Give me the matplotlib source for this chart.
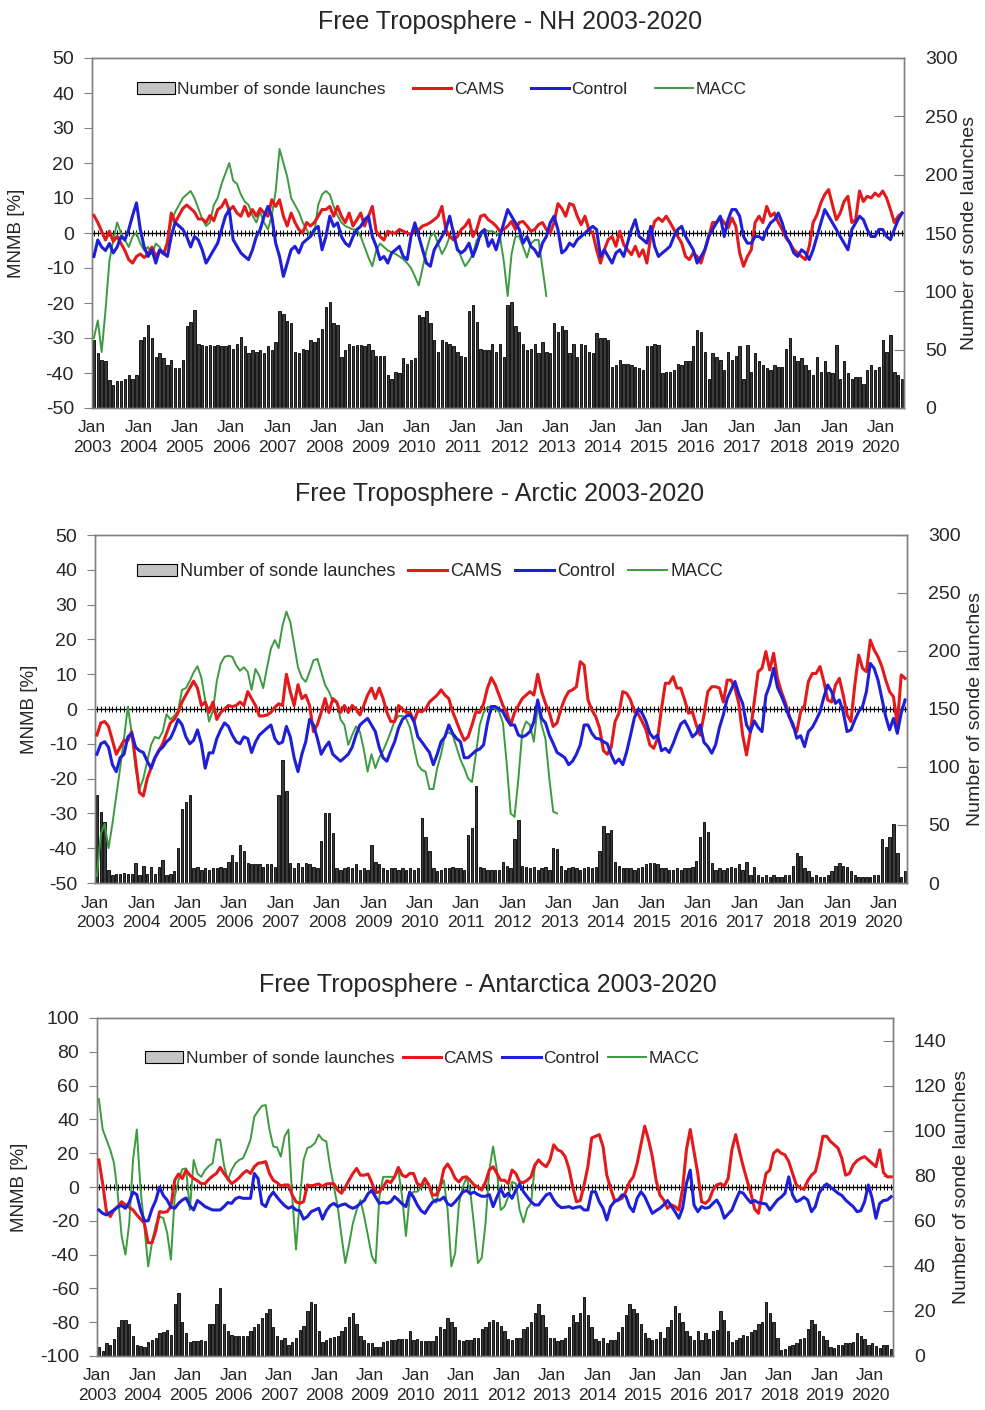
import numpy as np
import matplotlib
matplotlib.use("Agg")
import matplotlib.pyplot as plt
from matplotlib.patches import Patch
from matplotlib.lines import Line2D

plt.rcParams['font.family'] = ['Liberation Sans', 'DejaVu Sans']
plt.rcParams['axes.unicode_minus'] = False

# monthly values, Jan 2003 .. Jun 2020
years = list(range(2003, 2021))
tick_labels = ["Jan\n%d" % y for y in years]

nh_cams = [
    5, 3, 0.5, -2, 0.5, -2.4, -1, -3, -5, -7.6, -8.6, -6.7,
    -6, -7, -6, -4, -6.7, -5, -6, -3, 5.7, 3, 5, 7,
    8, 7, 6, 4, 4, 3, 5, 3.5, 6.7, 7.5, 9.5, 6.5,
    7.6, 5.7, 4.8, 7.6, 4.8, 6.7, 4.8, 7, 5.7, 4.8, 9.5, 7.6,
    9.5, 4.8, 2, 5.7, 3, 1, 0, 3, 2, 3, 4.8, 6.7,
    6.7, 7.6, 4.8, 7.6, 4.8, 3, 5.7, 2, 3.8, 5.7, 2, 4.8,
    7.6, 0.5, -1, -2, 0.5, 0, 0, 1, 0.5, 0, -0.5, 1,
    1, 2, 2.4, 3, 3.8, 4.8, 7.6, 1, -1, -2, -1, 1,
    2, 3.8, -1, 1, 4.8, 5.2, 3.8, 3, 2, 0.5, 1, 2,
    3.3, 1, 3, 3.3, 2, 0.5, 1, 2.4, 3, 1, 0, 3,
    8.4, 7, 4.8, 8.4, 8, 4.8, 2.4, 4.8, 1, 0, -4.8, -8.6,
    -4.8, -1.9, -1, -3.8, 0.5, -3.3, -4.8, -6.2, -3.8, -6.7, -4.8, -8.6,
    -1, 3.3, 4.3, 3.3, 4.8, 3, 1, -1, -2.9, -6.7, -7.6, -5.7,
    -6.7, -8.6, -4.8, -1, 3, 3, 4.3, 3, 1.4, 4.3, 1.9, -5.7,
    -9.5, -6.7, -4.8, 3, 4.8, 3, 7.6, 4.8, 5.7, 3, 1, -1.4,
    -2.9, -4.8, -5.7, -6.7, -7.6, -3.8, 3, 5.2, 8.6, 11, 12.4, 8,
    3.8, 5.7, 9, 10.5, 3, 3.8, 12, 9, 10.5, 10, 11.4, 10.5,
    12, 10, 6.7, 3, 4.8, 5.7]
nh_ctrl = [
    -6.7, -2, -4, -5, -3, -5.7, -4, -1, -2, 1, 5, 8.6,
    1, -4, -6.7, -4.8, -8.6, -4.8, -5.7, -6.7, -1, 3, 2, 1,
    -1, -4, -1, -2, -4.8, -8.6, -6.7, -4.8, -2.9, 1, 4.8, 6.7,
    -1.9, -3.8, -5.7, -6.7, -7.6, -4.8, -1, 1, 4.8, 7.6, 4.8, -2.9,
    -6.7, -12.4, -8.6, -4.8, -3.8, -5.7, -2.9, -1.9, -1, 1, 1.9, -4.8,
    -1, 4.8, 1.9, 2.9, -1, -2.9, -3.8, -1, 1, 1.9, 3.8, 4.8,
    -1, -3.8, -7.6, -6.7, -8.6, -5.7, -4.8, -3.8, -6.7, -7.6, -1, 2.9,
    -1, -4.8, -8.6, -9.5, -4.8, -2.9, -1, 1, 4.8, 0, -4.8, -5.7,
    -4.8, -2.9, -6.7, -3.8, 0, 1, -3.8, -1.9, -4.8, -1, 2.9, 6.7,
    4.8, 2.9, 1, -2.9, -1, -3.8, -4.8, -6.7, -2.9, -1, 2.9, 4.8,
    1, -5.7, -4.8, -2.9, -3.8, -1.9, -1, 0, 1, 1.9, 1, -6.7,
    -4.8, -6.7, -8.6, -5.7, -4.8, -6.7, -2.9, 1, 3.8, -1, -1.9, -2.9,
    1.9, -3.8, -6.7, -5.7, -4.8, -3.8, -1, 1, 1.9, -1, -2.9, -4.8,
    -8.6, -6.7, -4.8, -1, 1, 2.9, 4.8, -1, 3.8, 6.7, 6.7, 4.8,
    -1, -2.9, -2.9, -1, -1, -1.9, 1, 2.9, 3.8, 5.7, 2.9, -1,
    -2.9, -5.7, -6.7, -4.8, -5.7, -7.6, -4.8, -1, 2.9, 6.7, 4.8, 2.9,
    1, -1, -2.9, -4.8, 1, 2.9, 4.8, 3.8, 1, -1, -1, 1,
    1, -1, -1.9, 1, 3.8, 5.7]
nh_macc = [
    -30, -25, -34, -22, -8, -2, 3, 0, -2, -4, -1, 0,
    -3, -5, -4, -6, -3, -4, -6, -2, 3, 6, 8, 10,
    11, 12, 10, 7, 4, 2, 3, 8, 10, 14, 17, 20,
    15, 14, 11, 9, 8, 5, 3, 6, 3, 1, 5, 12,
    24, 20, 16, 10, 8, 6, 3, 1, -1, 0, 8, 11,
    12, 11, 7.6, 5, 3, 2, 1.5, 1, 1, -1, -4, -7,
    -9.5, -5, -3, -4, -5, -5.5, -6, -6.7, -7.5, -8.6, -10, -12.4,
    -15, -10, -5, -1, 0, -3, -6, -4, -1, -1, -4, -7,
    -9.5, -8, -6, -2, -1, 1, 0.5, 0.5, 0, -1, -8, -18,
    -6, -1, -1, -4, -7, -3, -2, -2, -10, -18]
nh_sondes = [
    58, 47, 41, 40, 24, 20, 23, 23, 25, 28, 25, 28,
    58, 61, 71, 60, 44, 47, 43, 37, 41, 34, 34, 41,
    70, 74, 84, 55, 54, 53, 54, 53, 54, 53, 53, 54,
    51, 55, 61, 53, 47, 50, 48, 50, 47, 53, 50, 57,
    83, 81, 75, 73, 48, 47, 51, 50, 58, 57, 60, 68,
    87, 91, 73, 71, 44, 50, 55, 53, 54, 54, 53, 55,
    50, 45, 45, 45, 28, 25, 31, 30, 43, 38, 41, 43,
    80, 78, 83, 73, 58, 48, 58, 57, 55, 53, 48, 45,
    44, 83, 88, 74, 51, 50, 50, 55, 48,
    55, 44, 88, 91, 70, 65, 55, 50, 51, 55,
    47, 57, 48, 47, 73, 65, 70, 67, 47, 55,
    44, 55, 54, 48, 47, 64, 60, 60, 58, 35,
    37, 41, 38, 38, 37, 35, 34, 33, 53, 53,
    55, 54, 30, 31, 31, 33, 38, 37, 40, 40,
    53, 67, 65, 48, 25, 47, 44, 41, 33, 48,
    41, 45, 53, 25, 54, 31, 47, 40, 37, 34,
    33, 37, 35, 35, 51, 60, 45, 40, 43, 37,
    33, 28, 44, 31, 40, 31, 30, 54, 25, 40,
    30, 25, 27, 27, 21, 33, 37, 33, 35, 58,
    48, 63, 31, 28, 25]

arc_cams = [
    -7.5, -4, -3.6, -5, -9, -13, -11, -9, -9, -6.5, -15, -24,
    -25, -20, -17, -14, -12, -10, -7, -4, -3, -1, 2, 4,
    6, 8, 6, 1, 2, -1, 2, -3, -1, 0, 1, 0.7,
    1, 2, 1, 5, 3, 1, -2, -2, -1.7, -1, 0.5, 1.5,
    1, 10, 5, 1, 7, 3, 4, 1, -6.5, -4.5, -1, 3,
    -1, 3, 2, -1, 1, -1, 1, 0, -1.7, 1, 4, 6,
    3, 6, 3, -1, -3.6, -3.6, 1, 0, -1, -1, -3.6, -0.5,
    -0.8, 0, 2, 3, 4, 5.5, 4, 3, -0.8, -3.6, -6.5, -9,
    -8, -4.6, -0.8, -1, 1.5, 6, 9, 7, 4, 1, -1, -4.6,
    -1, 1, 3, 4, 5, 4, 10, 5, 1.6, -1, -5, -4,
    0, 3, 5, 5.5, 6.4, 13.6, 12.6, 2.6, -0.3, -2.2, -5.5, -12,
    -13, -11, -3.6, -1.2, 5, 4.5, 2.6, -0.8, -1.5, -3.6, -6, -10.3,
    -11.3, -8.4, 0, 7.4, 7.4, 9.3, 6, 6, 2.6, -1.2, -0.8, -4.6,
    -7.5, -1.7, 5, 6.4, 6.4, 6, 2, 8.3, 8.3, 6, 1.6, -7.5,
    -13.2, -6.5, 2, 10.7, 11.7, 16.5, 11.2, 16, 8.8, 5, 2, -1.7,
    -5, -6.5, -0.8, 1, 7.9, 10.2, 10.2, 12.2, 7.9, 2.6, 2, 6.9,
    8.8, 4, -1.7, -3.6, 6.9, 15.5, 11.7, 10.7, 19.8, 17, 15, 12.2,
    8.3, 5, 3.5, -4.6, 9.8, 8.8]
arc_ctrl = [
    -13, -10, -9.4, -11, -16, -18, -14, -13, -8, -7, -11, -12,
    -12.5, -15, -17, -14, -12, -11, -9.4, -8.4, -6, -3, -4.5, -8,
    -10, -9, -6, -10, -17, -12.6, -12.6, -8.5, -6, -4, -5, -7.5,
    -9.4, -10, -8, -8.5, -12.5, -9.5, -7.5, -6.5, -5.5, -4.6, -8.5, -10,
    -9.5, -5, -8, -14, -18, -13, -9.4, -3, -4.6, -8.4, -13, -11,
    -9.5, -13, -14, -15, -14, -13, -11, -7.5, -4.6, -3.6, -2.7, -4.6,
    -6.5, -11, -14, -15, -12, -9.4, -5.5, -3, -2, -1.7, -3.6, -8,
    -9.4, -11, -12.5, -16, -13, -9.4, -8, -4.6, -7, -8.5, -9.4, -14,
    -14, -13, -12, -11.5, -10.3, -4, 0.7, 0.7, 0, -0.8, -3, -4.6,
    -4.6, -7.5, -8, -7.5, -6.5, -3.6, 2.6, -2.7, -4, -7.5, -9.9, -12.5,
    -13.2, -14, -16, -15, -13, -10.3, -4.6, -4.6, -7, -8.4, -8.6, -9.4,
    -10, -13.2, -15.6, -14.4, -16, -12.3, -7.5, -2.5, 0, -1.2, -3.6, -7,
    -8.4, -7.5, -12, -11.3, -12.5, -10, -7, -4.3, -3.4, -5.5, -8, -7,
    -4.6, -9.6, -10.8, -12.7, -10.3, -5.3, -1.7, 3, 5.5, 7.9, 4.3, 1.6,
    -4.6, -6.5, -3.4, -5.3, -6.5, 3.8, 6.9, 11.7, 6.2, 3.8, 1, -2.2,
    -4.3, -8.4, -7.7, -10.8, -6.5, -5.3, -3.2, -0.8, 3.4, 6.9, 5, 1.6,
    2.6, -0.8, -6.5, -6, -3.2, -0.8, 0.7, 5, 13.1, 11.7, 8.3, 3,
    -2.2, -6, -2.7, -7, -1.2, 2.6]
arc_macc = [
    -48, -36, -33, -40, -33, -25, -17, -8.5, 0.7, -7, -17, -23,
    -20, -15, -10.3, -8, -8.5, -6.5, -1.5, -3, -2, -0.5, 5.5, 6,
    8, 10.5, 12.3, 9, 2.5, -3.6, -0.5, 8, 13, 15, 15.3, 15,
    12.6, 11, 12, 10.7, 5.5, 11.5, 9.5, 6, 12, 17.4, 19.8, 17.5,
    24, 28, 25, 18.5, 12, 9, 7.8, 10.7, 14, 14.4, 10.7, 6.9,
    5, 2.2, 2, -3, -4.6, -10.3, -7.5, -5, -6.5, -11.5, -18, -13,
    -17, -14, -12, -9.4, -6.5, -3.4, -2, -2, -2.8, -5.5, -11, -16,
    -17.5, -18, -23, -23, -17, -13, -7.5, -6.7, -7.5, -11, -14.5, -17,
    -20, -21, -13, -4.6, -1, 0.5, 0.7, 0, -0.8, -4, -16, -30,
    -31, -20, -6.5, -3.6, -4.6, -9.4, 1, -4.6, -8.6, -20, -29.5, -30]
arc_sondes = [
    76, 61, 53, 11, 7, 8, 8, 9, 8, 8, 17, 7,
    15, 8, 14, 8, 14, 20, 7, 8, 10, 30, 64, 70,
    76, 13, 14, 11, 13, 11, 13, 13, 14, 13, 18, 24,
    18, 33, 28, 17, 16, 16, 16, 14, 16, 16, 14, 76,
    106, 79, 17, 13, 17, 14, 17, 16, 14, 13, 36, 60,
    60, 43, 13, 11, 13, 14, 13, 16, 11, 13, 11, 33,
    18, 16, 13, 11, 13, 13, 11, 13, 11, 13, 11, 13,
    56, 40, 28, 13, 10, 11, 13, 13, 14, 13, 13, 11,
    41, 47, 84, 14, 13, 11, 11, 11, 11, 18, 15, 13,
    38, 54, 15, 14, 13, 14, 11, 13, 14, 11, 30, 29,
    15, 11, 13, 14, 13, 11, 13, 14, 13, 14, 28, 49,
    43, 46, 18, 15, 13, 13, 13, 11, 13, 14, 16, 17,
    17, 16, 13, 13, 11, 11, 13, 11, 13, 13, 14, 19,
    40, 53, 44, 17, 11, 13, 11, 13, 14, 13, 16, 11,
    18, 7, 14, 7, 5, 7, 5, 7, 5, 5, 7, 7,
    15, 26, 23, 13, 10, 5, 7, 5, 5, 7, 10, 15,
    17, 15, 14, 10, 7, 5, 5, 5, 5, 7, 7, 38,
    31, 40, 51, 26, 5, 10]

ant_cams = [
    16, 2, -14.6, -17.5, -13.6, -11.6, -8.7, -10.6, -12, -13.6, -16.5, -19,
    -21.5, -33, -33, -26, -14.6, -15, -14.6, -11.6, 4, 7.7, 5, 10,
    7, 5, 3.7, 2, 2, 4.5, 6.5, 8, 11.6, 8, 5, 2,
    3.5, 5.5, 8, 9.7, 8, 12, 14, 14.4, 15, 8, 4, 2.6,
    0.6, 1.2, 1.2, -4.7, -8.7, -9.7, -8.7, 1.2, 0.6, 1.2, 1.8, 0.2,
    1.8, 2, 1.8, -1.8, -3.7, 0, 4, 8, 11, 7, 7, 7.7,
    2.6, -3.4, -2.8, 0, 3.7, 2.6, 6, 11.6, 7, 6, 8, 8,
    2, 0.6, 5, 1.2, -4.7, -4.7, 0, 10.5, 13.6, 10, 5, 3,
    5.7, 6, 3.7, 1.2, 0, -1.8, 3, 10, 12, 8, 4,
    4, 2, 10, 8, 3, 2.6, 4, 6, 13, 16, 13.6, 12, 16,
    25, 22, 21, 18, 11, 0, -8.7, -8, 1.2, 12, 29, 30,
    31, 24, 7, -0.8, -7.7, -7.7, -6.7, -2.8, 3, 6, 14, 25,
    36, 28, 18, 4, -4.7, -7.7, -12.6, -10.6, -11.6, -13.6, -0.8, 22,
    34, 21, 8, -8.7, -9.7, -7.7, -1.8, 1.2, 2, 0.6, 5, 22,
    31, 21, 12, 4, -3.7, -13, -15.6, -3.7, 8, 10, 20, 22,
    20, 19, 15, 8, 1.2, -0.4, -1.4, 3.7, 7, 9, 18, 30,
    30, 27, 25, 23, 17, 7, 8, 13, 15.6, 17, 18, 16,
    14, 12, 22, 8.5, 6, 6]
ant_ctrl = [
    -13.6, -15.6, -16.5, -15, -13.6, -11.6, -11, -12.6, -9, -3, -4.5, -13.6,
    -20, -20, -13, -8, 0, -5, -7.7, -12, -12.6, -9.7, -7.7, -6.5,
    -11, -13.6, -8, -9.7, -11.6, -12.6, -13.6, -13.6, -13.6, -11.6, -9.2, -9.7,
    -7, -6, -6.7, -6.7, -6.7, 8, 5, -10, -11.6, -6, -3, -6,
    -8.7, -11, -12.6, -11.6, -13.6, -14, -19, -17.5, -14.6, -13.6, -12.6, -19,
    -14, -11, -9.7, -11.6, -10.6, -10, -11.6, -12.6, -11.6, -9.7, -8, -4,
    -2, -6, -9.7, -9, -9.7, -8.7, -5.7, -7.7, -10, -11.6, -3, -6,
    -10.6, -14, -15.6, -12, -9, -7.7, -7.7, -6, -10, -11, -8.7, -6,
    -3, -2, -4, -3, -4.5, -5.5, -5.5, -4.5, -11.6, -6, -1,
    -5.7, -3.7, -6.7, -1.8, 1.8, -2.8, -5.7, -8.7, -10.6, -10.6, -7.7, -4.7, -3.7,
    -7.7, -10.6, -12.2, -12, -11.6, -12.6, -12, -11.6, -13.6, -13.6, -2.8, -2.8,
    -8.7, -12.6, -19.5, -11.6, -8.7, -7.7, -4.7, -5.3, -11.6, -14.6, -6.7, -2.8,
    -5.7, -10.6, -15.6, -14, -12.6, -10.6, -8, -11.2, -14.6, -18.5, -12.6, 2,
    10, -10.6, -14.6, -11.6, -12.6, -12, -9.7, -7.7, -11.6, -18.5, -16, -13.6,
    -8, -2.8, -3.7, -6.7, -9.3, -8, -9.3, -9.7, -10, -13.6, -10.6, -7.7,
    -6, -3.7, 6, -4.7, -8.7, -7.7, -6, -7.7, -14.6, -11.6, -3.7, -0.2,
    1.8, 0, -1.8, -3.7, -5, -7.7, -9.7, -11.6, -14.6, -14, -8.7, 1.2,
    -6.7, -18.5, -9.7, -8, -7.7, -5.7]
ant_macc = [
    52, 34, 28, 22, 14, -5, -29, -40, -21.5, 16, 34, -1.8,
    -23.5, -47, -33, -22.5, -17.5, -18.5, -27, -43, -5.7, 4, 10.5, 11,
    -13.6, 16, 8, 6, 10, 12.4, 14, 28, 28, 13, 4, 10,
    14, 16, 17, 22, 28, 41.6, 45, 48, 48.5, 34, 24, 23.5,
    18, 30, 34, -5.7, -37, -7.7, 16, 23, 24, 26, 31, 28,
    27, 12, 0, -11.6, -29, -45, -34, -21.5, -13.6, -7.7, -17.5, -29,
    -41, -45, -5.7, 6, 6, 6, 6, 9.7, -5.7, -29, -5.7, -2.8,
    -2.8, -0.2, 1.8, 2, -6.7, -9.3, 0, 4, -13.6, -47, -39, -9.7,
    0, 5.7, -2.8, -23.5, -45, -42, -21.5, 10, 24, 10, -13.6,
    -11.6, -5.7, 3, 2, -13.6, -21, -12.6, -9.7, 12, 16]
ant_sondes = [
    4, 2, 5.6, 5, 7.5, 13, 16, 16, 14, 9, 5, 4.5,
    4, 6, 7, 8, 10, 10.5, 11.5, 9.5, 23, 28, 15, 10,
    6, 6.5, 6.5, 7, 6.5, 14, 14, 23, 30, 14, 11, 9.5,
    9, 9, 9, 9, 11, 13, 14, 17, 19, 21, 13, 9,
    7, 8, 5, 6, 8, 11.5, 13.5, 20, 24, 23, 11, 6,
    7, 8, 8.5, 9, 11, 13, 17.5, 19, 14, 9, 7, 5.6,
    5.6, 4, 4, 6, 6.5, 7, 7, 7.5, 7.5, 7.5, 11, 7,
    7.5, 6.5, 6.5, 6.5, 6.5, 9, 13, 12, 17, 15, 13, 7,
    6.5, 7, 7, 8, 8, 12, 13, 15, 16, 15, 13.5,
    11, 7.5, 7, 8, 8, 12, 13, 15, 19, 23, 18, 13, 8,
    8, 6.5, 7, 8, 13, 18, 15, 19, 26, 18, 13, 7.5,
    6.5, 8, 5.6, 7, 7, 10.5, 13, 18, 23, 21, 19, 14,
    10, 8, 7, 7.5, 10.5, 8, 13, 16, 22, 19, 15, 11,
    9, 7, 11, 7, 10, 7.5, 11, 11.5, 20, 16, 11, 6,
    7, 8, 9.5, 9, 10.5, 11.5, 14, 15, 24, 19, 15, 8,
    2.5, 3, 4.5, 5, 5.6, 7.5, 8, 12, 16, 14, 11, 9,
    7, 4, 3.5, 5, 5, 5.6, 5.6, 6, 10, 9, 7.5, 5,
    5.6, 4.5, 3.5, 5, 5, 3]

RED = '#e31a1c'
BLUE = '#1f1fd6'
GREEN = '#3c9b3f'
SPINE = '#808080'
TXT = '#262626'

fig = plt.figure(figsize=(9.85, 14.10), dpi=100)


def panel(rect, title, title_xy, cams, ctrl, macc, sondes, ylim, ystep,
          rlim, rticks, leg_xy, leg_fs, colsp, ylab_x, rlab_x):
    ax = fig.add_axes(rect)
    ax2 = ax.twinx()
    n = len(sondes)
    months = np.arange(n)

    ax2.bar(months, sondes, width=0.62, color='#3a3a3a',
            edgecolor='black', linewidth=0.6)
    ax2.set_ylim(*rlim)
    ax2.set_yticks(rticks)
    ax2.tick_params(axis='y', direction='in', length=7, pad=15,
                    labelsize=14, color=SPINE, labelcolor=TXT)

    ax.set_zorder(ax2.get_zorder() + 1)
    ax.patch.set_visible(False)

    # zero line with monthly tick marks
    ax.axhline(0, color='black', lw=1.0, zorder=1)
    ax.plot(months, np.zeros(n), ls='none', marker='|', ms=5, mew=0.7,
            color='black', zorder=1)

    ax.plot(np.arange(len(macc)), macc, color=GREEN, lw=1.4, zorder=2)
    ax.plot(np.arange(len(cams)), cams, color=RED, lw=2.2, zorder=3)
    ax.plot(np.arange(len(ctrl)), ctrl, color=BLUE, lw=2.2, zorder=4)

    ax.set_xlim(-0.5, n - 0.5)
    ax.set_ylim(*ylim)
    ax.set_yticks(np.arange(ylim[0], ylim[1] + 1, ystep))
    ax.set_xticks(np.arange(len(years)) * 12 - 0.5)
    ax.set_xticklabels(tick_labels, linespacing=1.35)
    ax.tick_params(axis='x', length=0, pad=9, labelsize=12.5, labelcolor=TXT)
    ax.tick_params(axis='y', length=6, pad=7, labelsize=14, color=SPINE,
                   labelcolor=TXT)
    for a in (ax, ax2):
        for s in a.spines.values():
            s.set_color(SPINE)
            s.set_linewidth(1.0)

    handles = [Patch(facecolor='#c4c4c4', edgecolor='black', lw=0.8),
               Line2D([], [], color=RED, lw=2.2),
               Line2D([], [], color=BLUE, lw=2.2),
               Line2D([], [], color=GREEN, lw=1.4)]
    labels = ['Number of sonde launches', 'CAMS', 'Control', 'MACC']
    leg = ax.legend(handles, labels, ncol=4, frameon=False, loc='center left',
                    bbox_to_anchor=leg_xy, fontsize=leg_fs, handlelength=2.2,
                    handletextpad=0.15, columnspacing=colsp, borderpad=0,
                    borderaxespad=0)
    for t in leg.get_texts():
        t.set_color(TXT)

    fig.text(title_xy[0] / 985, 1 - title_xy[1] / 1410, title,
             ha='center', va='center', fontsize=18, color=TXT)
    fig.text(ylab_x / 985, rect[1] + rect[3] / 2, 'MNMB [%]', rotation=90,
             ha='center', va='center', fontsize=13.5, color=TXT)
    fig.text(rlab_x / 985, rect[1] + rect[3] / 2, 'Number of sonde launches',
             rotation=90, ha='center', va='center', fontsize=14, color=TXT)
    return ax


def frect(l, r, t, b):
    return [l / 985, 1 - b / 1410, (r - l) / 985, (b - t) / 1410]


panel(frect(92, 904, 58, 408), 'Free Troposphere - NH 2003-2020', (510, 22),
      nh_cams, nh_ctrl, nh_macc, nh_sondes, (-50, 50), 10,
      (0, 300), np.arange(0, 301, 50), (0.055, 0.91), 12.5, 1.55, 17, 970)
panel(frect(95, 907, 535, 883), 'Free Troposphere - Arctic 2003-2020', (500, 494),
      arc_cams, arc_ctrl, arc_macc, arc_sondes, (-50, 50), 10,
      (0, 300), np.arange(0, 301, 50), (0.052, 0.894), 13, 0.7, 30, 975)
panel(frect(97, 893, 1018, 1356), 'Free Troposphere - Antarctica 2003-2020', (488, 985),
      ant_cams, ant_ctrl, ant_macc, ant_sondes, (-100, 100), 20,
      (0, 150), np.arange(0, 141, 20), (0.06, 0.879), 12.5, 0.5, 20, 962)

fig.savefig('out.png', dpi=100)
